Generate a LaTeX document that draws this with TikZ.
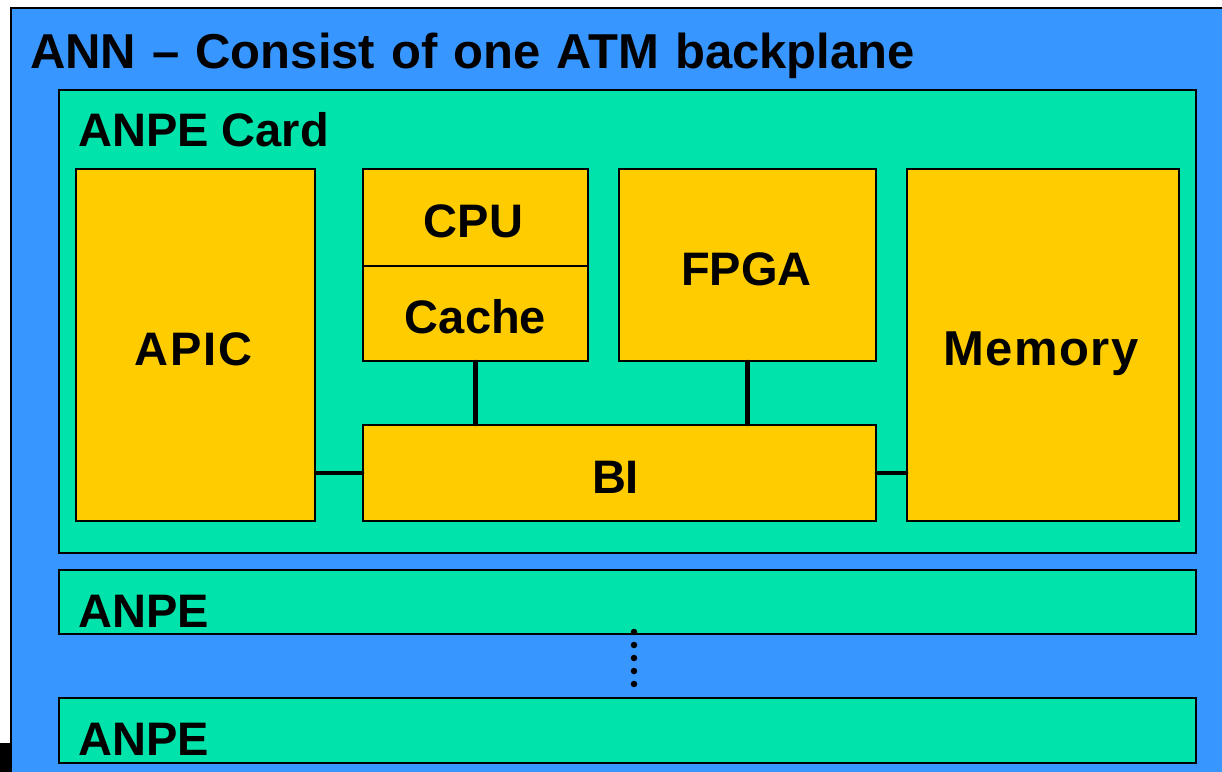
\documentclass[tikz,border=0pt]{standalone}
\usepackage{fontspec}
\setmainfont{Liberation Sans}
\definecolor{annblue}{HTML}{3796FF}
\definecolor{cardgreen}{HTML}{00E3AA}
\definecolor{chipyellow}{HTML}{FFCC00}
\tikzset{
  frame/.style={draw=black, line width=2pt},
  chip/.style={frame, fill=chipyellow, inner sep=0pt, anchor=north west},
  card/.style={frame, fill=cardgreen, inner sep=0pt, anchor=north west},
  lbl/.style={font=\fontsize{47}{56}\selectfont\bfseries, inner sep=0pt, text height=34pt, text depth=0pt},
  chiplbl/.style={lbl, yshift=-3pt},
  bus/.style={line width=4.5pt, line cap=round},
  dots/.style={line width=6.5pt, line cap=round, dash pattern=on 0pt off 13pt},
}
\begin{document}
\begin{tikzpicture}[x=1pt,y=-1pt]
  \useasboundingbox (0,0) rectangle (1222,771);
  \clip (0,0) rectangle (1222,771);
  \fill[white] (0,0) rectangle (1222,771);
  % shadow corner and backplane
  \fill[black] (0,743) rectangle (12,780);
  \draw[frame, fill=annblue] (11,8) rectangle (1240,790);
  \node[lbl, font=\fontsize{49}{58}\selectfont\bfseries, anchor=base west] (title) at (30,68)
    {\spaceskip=16pt ANN -- Consist of one ATM backplane};

  % ANPE card
  \node[card, minimum width=1137pt, minimum height=463pt] (cardbox) at (58,89) {};
  \node[lbl, anchor=base west] (cardlbl) at (78,146) {ANPE Card};

  \node[chip, minimum width=239pt, minimum height=352pt] (apic) at (75,168) {};
  \node[chiplbl, xshift=-2pt] (apiclbl) at (apic.center) {A\kern2pt P\kern2pt I\kern2pt C};

  \node[chip, minimum width=225pt, minimum height=97pt] (cpu) at (362,168) {};
  \node[chiplbl, xshift=-2pt] (cpulbl) at (cpu.center) {CPU};
  \node[chip, minimum width=225pt, minimum height=95pt] (cache) at (362,265) {};
  \node[chiplbl] (cachelbl) at (cache.center) {Cache};

  \node[chip, minimum width=257pt, minimum height=192pt] (fpga) at (618,168) {};
  \node[chiplbl, xshift=-1pt] (fpgalbl) at (fpga.center) {FPGA};

  \node[chip, minimum width=272pt, minimum height=352pt] (mem) at (906,168) {};
  \node[chiplbl, font=\fontsize{49}{58}\selectfont\bfseries, xshift=-2pt] (memlbl) at (mem.center)
    {M\kern1.5pt e\kern1.5pt m\kern1.5pt o\kern1.5pt r\kern1.5pt y};

  \node[chip, minimum width=513pt, minimum height=96pt] (bi) at (362,424) {};
  \node[chiplbl, xshift=-4pt] (bilbl) at (bi.center) {BI};

  % bus connections
  \draw[bus] (bi.west -| apic.east) -- (bi.west);
  \draw[bus] (bi.east) -- (bi.east -| mem.west);
  \draw[bus] (cache.south) -- (cache.south |- bi.north);
  \draw[bus] (fpga.south) -- (fpga.south |- bi.north);

  % further ANPE cards
  \node[card, minimum width=1137pt, minimum height=64pt] (anpeA) at (58,569) {};
  \node[lbl, anchor=base west] (anpeAlbl) at (78,627) {ANPE};
  \node[card, minimum width=1137pt, minimum height=65pt] (anpeB) at (58,697) {};
  \node[lbl, anchor=base west] (anpeBlbl) at (78,755) {ANPE};

  \coordinate (dotTop) at (634,632);
  \coordinate (dotEnd) at (634,686);
  \draw[dots] (dotTop) -- (dotEnd);
\end{tikzpicture}
\end{document}
